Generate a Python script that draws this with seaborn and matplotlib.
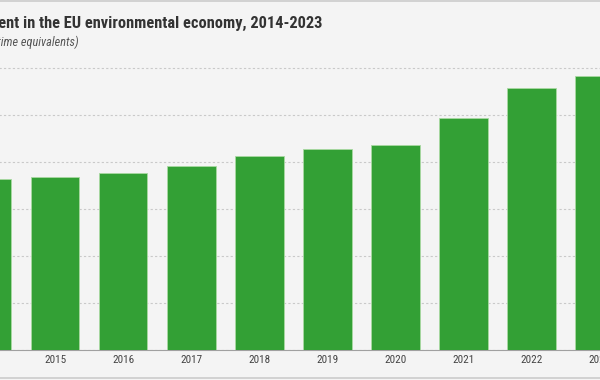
import matplotlib
matplotlib.use('Agg')
import matplotlib.pyplot as plt
import seaborn as sns
import pandas as pd
from matplotlib.lines import Line2D
from matplotlib import font_manager

# Employment in the EU environmental economy (million FTE)
years = ['2014', '2015', '2016', '2017', '2018', '2019', '2020', '2021', '2022', '2023']
employment = [3.64, 3.69, 3.76, 3.92, 4.12, 4.29, 4.37, 4.95, 5.59, 5.83]
grid_levels = [0, 1, 2, 3, 4, 5, 6]

title = 'Employment in the EU environmental economy, 2014-2023'
subtitle = '(million full-time equivalents)'

bg = '#f4f4f4'
green = '#33a035'

sns.set_style('white')

# pick a narrow face if one is installed, the original uses a condensed font
installed = {(f.name, f.stretch) for f in font_manager.fontManager.ttflist}
names = {n for n, s in installed}
font_family, font_stretch = 'DejaVu Sans', 'normal'
for cand in ['Liberation Sans Narrow', 'Roboto Condensed', 'Open Sans Condensed',
             'Noto Sans Condensed', 'DejaVu Sans Condensed']:
    if cand in names:
        font_family, font_stretch = cand, 'normal'
        break
else:
    for n, s in installed:
        if n in ('DejaVu Sans', 'Noto Sans', 'Open Sans', 'Roboto') and s in ('condensed', 'semi-condensed', 100, 87.5):
            font_family, font_stretch = n, 'condensed'
            break
plt.rcParams['font.family'] = [font_family, 'DejaVu Sans']
plt.rcParams['font.stretch'] = font_stretch
narrow = font_stretch == 'condensed' or font_family != 'DejaVu Sans'

df = pd.DataFrame({'year': years, 'value': employment})

fig = plt.figure(figsize=(6, 3.8), dpi=100, facecolor=bg)
# axes run off the left/right edge, like the cropped original
ax = fig.add_axes([-47.15 / 600, 30.5 / 380, 681 / 600, 285.8 / 380])
ax.set_facecolor(bg)

sns.barplot(data=df, x='year', y='value', color=green, saturation=1,
            width=0.714, edgecolor='#a9d9a2', linewidth=0.6, ax=ax, zorder=3)

ax.set_xlim(-0.5, len(years) - 0.5)
ax.set_ylim(0, 6.1)
ax.set_yticks(grid_levels)
ax.yaxis.grid(True, color='#c9c9c9', linestyle=(0, (2, 2)), linewidth=0.8, zorder=0)
ax.tick_params(axis='y', length=0, labelleft=False)

ax.set_xticks(range(len(years)))
ax.set_xticklabels(years, fontsize=8 if narrow else 7, color='#444444')
ax.set_xticks([i + 0.5 for i in range(-1, len(years))], minor=True)
ax.tick_params(axis='x', which='major', length=0, pad=4)
ax.tick_params(axis='x', which='minor', direction='inout', length=15, width=0.8, color='#666666')
ax.set_xlabel('')
ax.set_ylabel('')

for s in ['top', 'right', 'left']:
    ax.spines[s].set_visible(False)
ax.spines['bottom'].set_color('#a0a0a0')
ax.spines['bottom'].set_linewidth(0.8)

r = fig.canvas.get_renderer()


def fitted_size(visible, target_px, base, **kw):
    # size the text so the part seen in the cropped original spans the same width
    probe = fig.text(0, 0, visible, fontsize=base, **kw)
    w = probe.get_window_extent(r).width
    probe.remove()
    return min(base * 1.2, max(base * 0.85, base * target_px / w))


title_size = fitted_size('ent in the EU environmental economy, 2014-2023', 324, 11,
                         fontweight='bold')
fig.text(322 / 600, 1 - 28 / 380, title, ha='right', va='baseline',
         fontsize=title_size, fontweight='bold', color='#333333')

sub_size = fitted_size('time equivalents)', 81, 8, fontstyle='italic')
fig.text(79 / 600, 1 - 46 / 380, subtitle, ha='right', va='baseline',
         fontsize=sub_size, fontstyle='italic', color='#555555')

# frame lines at top and bottom of the panel
fig.add_artist(Line2D([0, 1], [1 - 1 / 380, 1 - 1 / 380], color='#cccccc', linewidth=1.2))
fig.add_artist(Line2D([0, 1], [2 / 380, 2 / 380], color='#cccccc', linewidth=1.2))

fig.savefig('out.png', dpi=100, facecolor=bg)
